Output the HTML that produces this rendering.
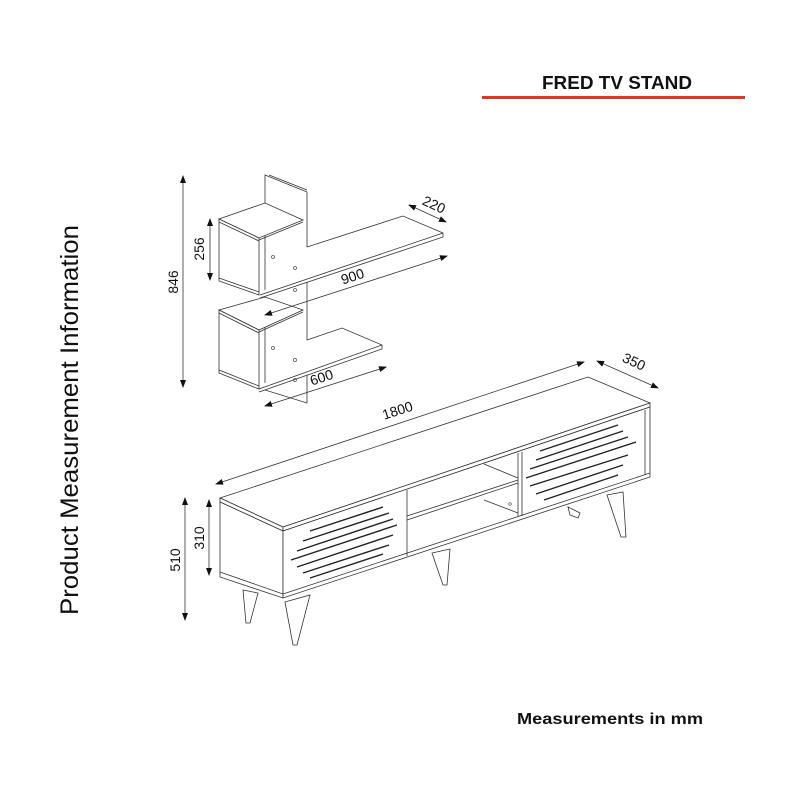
<!DOCTYPE html>
<html><head><style>body{margin:0;background:#fff}svg{display:block}</style></head>
<body>
<svg width="800" height="800" viewBox="0 0 800 800" xmlns="http://www.w3.org/2000/svg" font-family="Liberation Sans, sans-serif">
<defs>
<marker id="a" markerWidth="8" markerHeight="8" refX="7" refY="4" orient="auto-start-reverse" markerUnits="userSpaceOnUse"><path d="M0,1 L8,4 L0,7 Z" fill="#111"/></marker>
</defs>
<rect width="800" height="800" fill="#fff"/>
<text x="542" y="89" font-size="18" font-weight="bold" textLength="150" lengthAdjust="spacingAndGlyphs" fill="#111">FRED TV STAND</text>
<rect x="482" y="96" width="263" height="3" fill="#e8321e"/>
<text x="517" y="724" font-size="16" font-weight="bold" textLength="186" lengthAdjust="spacingAndGlyphs" fill="#111">Measurements in mm</text>
<text transform="translate(78,615) rotate(-90)" font-size="25" textLength="390" lengthAdjust="spacingAndGlyphs" fill="#111">Product Measurement Information</text>

<g fill="#fff" stroke="#333" stroke-width="0.8">
<!-- back panel -->
<polygon points="265,175 307,192 307,403 265,390"/>
<line x1="269" y1="175" x2="307" y2="190"/>
<!-- 900 shelf -->
<polygon points="307,247 403,216 443,233 443,237 260,298 260,295" stroke="none"/>
<polyline fill="none" points="307,247 403,216 443,233 443,237 260,298"/>
<line x1="260" y1="295" x2="443" y2="233"/>
<!-- 600 shelf -->
<polygon points="307,340 342,328 382,345 382,349 259,392 259,389" stroke="none"/>
<polyline fill="none" points="307,340 342,328 382,345 382,349 259,392"/>
<line x1="259" y1="389" x2="382" y2="345"/>
<!-- upper cube -->
<polygon points="219,219 265,203 303,220 259,238"/>
<polygon points="219,219 259,238 259,295 219,281"/>
<line x1="219" y1="222" x2="259" y2="241"/><line x1="219" y1="278" x2="259" y2="292"/>
<line x1="259" y1="240" x2="303" y2="222"/>
<!-- lower cube -->
<polygon points="219,310 265,297 303,310 259,330"/>
<polygon points="219,310 259,330 259,389 219,373"/>
<line x1="219" y1="313" x2="259" y2="333"/><line x1="219" y1="370" x2="259" y2="386"/>
<line x1="259" y1="332" x2="303" y2="312"/>
</g>
<g fill="none" stroke="#555" stroke-width="0.8">
<circle cx="273" cy="257" r="1.5"/><circle cx="295" cy="268" r="1.5"/><circle cx="295" cy="290" r="1.5"/>
<circle cx="273" cy="348" r="1.5"/><circle cx="295" cy="360" r="1.5"/><circle cx="295" cy="380" r="1.5"/>
</g>

<!-- dimension arrows -->
<g stroke="#333" stroke-width="0.8" marker-start="url(#a)" marker-end="url(#a)">
<line x1="183" y1="176" x2="183" y2="387"/>
<line x1="210" y1="219" x2="210" y2="280"/>
<line x1="409" y1="205" x2="446" y2="222"/>
<line x1="265" y1="315" x2="447" y2="256"/>
<line x1="265" y1="406" x2="386" y2="367"/>
<line x1="216" y1="484" x2="584" y2="362"/>
<line x1="597" y1="361" x2="658" y2="388"/>
<line x1="209" y1="500" x2="209" y2="575"/>
<line x1="185" y1="498" x2="185" y2="620"/>
<line x1="415" y1="541" x2="521" y2="505"/>
</g>
<line x1="519" y1="480" x2="519" y2="505" stroke="#333" stroke-width="0.8"/>
<g font-size="14" fill="#111" text-anchor="middle">
<text transform="translate(178,282) rotate(-90)">846</text>
<text transform="translate(204,249) rotate(-90)">256</text>
<text transform="translate(432,209) rotate(25)">220</text>
<text transform="translate(354,281) rotate(-18)">900</text>
<text transform="translate(323,382) rotate(-18)">600</text>
<text transform="translate(399,415) rotate(-18)">1800</text>
<text transform="translate(632,366) rotate(25)">350</text>
<text transform="translate(204,538) rotate(-90)">310</text>
<text transform="translate(180,560) rotate(-90)">510</text>
<text transform="translate(467,516) rotate(-18)">568</text>
</g>

<!-- TV stand -->
<g fill="#fff" stroke="#333" stroke-width="0.8">
<polygon points="568,507 580,513 578,518 570,515"/>
<polygon points="243,590 258,593 250,623 246,623"/>
<polygon points="432,553 450,549 447,585 443,585"/>
<polygon points="607,495 623,492 626,537 621,537"/>
<polygon points="285,602 310,595 297,645 293,645"/>
<polygon points="220,498 588,377 650,403 283,527"/>
<polygon points="220,498 283,527 283,531 220,502"/>
<polygon points="283,527 650,403 650,407 283,531"/>
<polygon points="220,502 283,531 283,598 220,577"/>
<line x1="220" y1="572" x2="283" y2="594"/>
<polygon points="283,531 650,407 650,477 283,598"/>
<line x1="283" y1="594" x2="650" y2="473"/>
<line x1="645" y1="410" x2="645" y2="475"/>
<line x1="407" y1="490" x2="407" y2="556"/>
<line x1="518" y1="453" x2="518" y2="516"/>
<line x1="522" y1="452" x2="522" y2="516"/>
<line x1="407" y1="516" x2="518" y2="480"/>
<line x1="407" y1="520" x2="518" y2="483"/>
<line x1="484" y1="464" x2="518" y2="478"/>
<line x1="484" y1="500" x2="518" y2="513"/>
</g>
<circle cx="510" cy="504" r="1.3" fill="none" stroke="#555" stroke-width="0.7"/>
<g stroke="#222" stroke-width="1.4">
<line x1="310" y1="531" x2="383" y2="507"/>
<line x1="303" y1="541" x2="389" y2="513"/>
<line x1="297" y1="551" x2="393" y2="519"/>
<line x1="291" y1="560" x2="397" y2="525"/>
<line x1="297" y1="567" x2="393" y2="535"/>
<line x1="303" y1="573" x2="389" y2="545"/>
<line x1="310" y1="578" x2="383" y2="554"/>
<line x1="540" y1="451" x2="618" y2="425"/>
<line x1="536" y1="460" x2="623" y2="431"/>
<line x1="530" y1="469" x2="628" y2="437"/>
<line x1="526" y1="478" x2="636" y2="442"/>
<line x1="530" y1="486" x2="628" y2="455"/>
<line x1="536" y1="494" x2="623" y2="465"/>
<line x1="544" y1="500" x2="618" y2="475"/>
</g>
</svg>
</body></html>
